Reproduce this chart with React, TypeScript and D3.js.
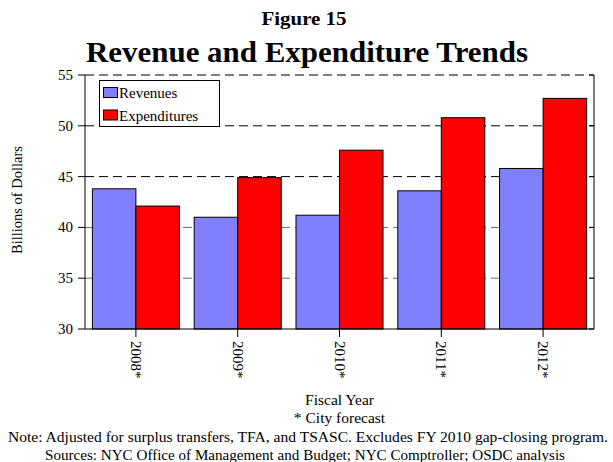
import React from "react";
import * as d3 from "d3";

const categories = ["2008*", "2009*", "2010*", "2011*", "2012*"];
const revenues = [43.8, 41.0, 41.2, 43.6, 45.8];
const expenditures = [42.1, 44.9, 47.6, 50.8, 52.7];
const seriesNames = ["Revenues", "Expenditures"];
const seriesColors = ["#8080FF", "#FF0000"];
const yTicks = [30, 35, 40, 45, 50, 55];

const W = 613, H = 462;
const left = 85, right = 594, top = 75, bottom = 329;
const FONT = "'Liberation Serif', 'Times New Roman', serif";

export default function App() {
  const x0 = d3.scaleBand<string>().domain(categories).range([left, right]).paddingInner(0.145).paddingOuter(0.0725);
  const x1 = d3.scaleBand<string>().domain(seriesNames).range([0, x0.bandwidth()]);
  const y = d3.scaleLinear().domain([30, 55]).range([bottom, top]);
  const data = [revenues, expenditures];

  return (
    <svg width={W} height={H} style={{ position: "absolute", left: 0, top: 0, background: "#fff" }} fontFamily={FONT}>
      <rect x={0} y={0} width={W} height={H} fill="#fff" />
      <text x={304} y={25} textAnchor="middle" fontSize={19} fontWeight="bold" textLength={85} lengthAdjust="spacingAndGlyphs">Figure 15</text>
      <text x={307} y={62} textAnchor="middle" fontSize={30} fontWeight="bold" textLength={442} lengthAdjust="spacingAndGlyphs">Revenue and Expenditure Trends</text>

      {yTicks.filter(t => t > 30).map(t => (
        <line key={"g" + t} x1={left} x2={right} y1={y(t)} y2={y(t)} stroke={t >= 45 ? "#000" : "#666"} strokeWidth={1} strokeDasharray="9,5" />
      ))}

      {categories.map((c, i) => (
        <g key={c}>
          {seriesNames.map((s, j) => (
            <rect key={s} x={x0(c)! + x1(s)!} y={y(data[j][i])} width={x1.bandwidth()} height={y(30) - y(data[j][i])}
              fill={seriesColors[j]} stroke="#000" strokeWidth={1} />
          ))}
        </g>
      ))}

      {/* axes */}
      <line x1={left} x2={left} y1={top} y2={bottom} stroke="#000" />
      <line x1={right} x2={right} y1={top} y2={bottom} stroke="#000" />
      <line x1={left} x2={right} y1={bottom} y2={bottom} stroke="#000" />
      {yTicks.map(t => (
        <g key={"t" + t}>
          <line x1={left - 7} x2={left} y1={y(t)} y2={y(t)} stroke="#000" />
          <line x1={right - 5} x2={right} y1={y(t)} y2={y(t)} stroke="#000" />
          <text x={left - 12} y={y(t) + 5} textAnchor="end" fontSize={15}>{t}</text>
        </g>
      ))}
      {categories.map(c => {
        const cx = x0(c)! + x0.bandwidth() / 2;
        return (
          <g key={"x" + c}>
            <line x1={cx} x2={cx} y1={bottom} y2={bottom + 8} stroke="#000" />
            <text transform={`translate(${cx - 5},${bottom + 12}) rotate(90)`} fontSize={15}>{c}</text>
          </g>
        );
      })}

      <text transform={`translate(22,${(top + bottom) / 2 - 2}) rotate(-90)`} textAnchor="middle" fontSize={14.5}>Billions of Dollars</text>
      <text x={(left + right) / 2} y={405} textAnchor="middle" fontSize={15.5}>Fiscal Year</text>
      <text x={(left + right) / 2} y={423} textAnchor="middle" fontSize={15.5}>* City forecast</text>
      <text x={308} y={442} textAnchor="middle" fontSize={15} textLength={600} lengthAdjust="spacingAndGlyphs">Note: Adjusted for surplus transfers, TFA, and TSASC. Excludes FY 2010 gap-closing program.</text>
      <text x={305} y={460} textAnchor="middle" fontSize={15} textLength={520} lengthAdjust="spacingAndGlyphs">Sources: NYC Office of Management and Budget; NYC Comptroller; OSDC analysis</text>

      {/* legend */}
      <rect x={99.5} y={80.5} width={120} height={46} fill="#fff" stroke="#000" />
      {seriesNames.map((s, j) => (
        <g key={"l" + s}>
          <rect x={103.5} y={87.5 + j * 22.5} width={14} height={10} fill={seriesColors[j]} stroke="#000" />
          <text x={119} y={98 + j * 22.5} fontSize={15}>{s}</text>
        </g>
      ))}
    </svg>
  );
}
